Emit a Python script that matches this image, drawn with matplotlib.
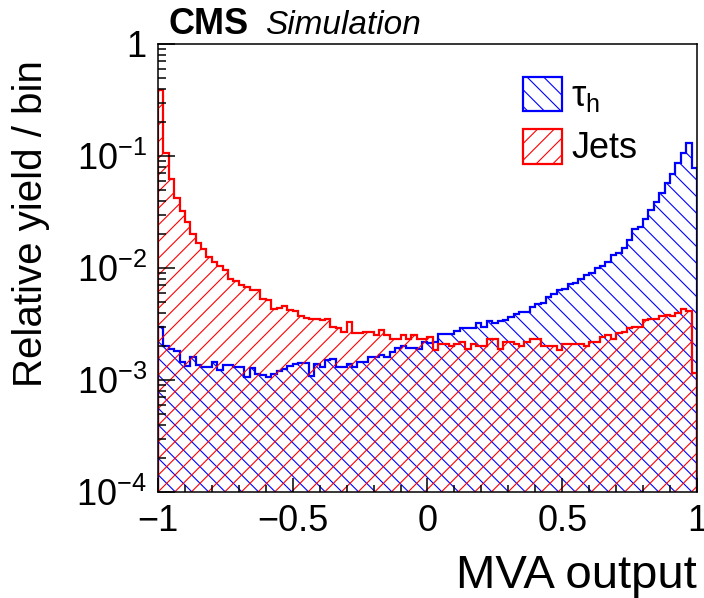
import matplotlib
matplotlib.use("Agg")
import matplotlib.pyplot as plt
from matplotlib import font_manager
import numpy as np

# relative yield per bin, 100 bins from -1 to 1
tau_h = [0.0030, 0.0020, 0.0019, 0.0018, 0.00144, 0.00133, 0.00161, 0.00136, 0.00131, 0.00131,
         0.00146, 0.00123, 0.00136, 0.00136, 0.00130, 0.00130, 0.00107, 0.00127, 0.00113, 0.00111,
         0.00107, 0.00113, 0.00121, 0.00125, 0.00134, 0.00138, 0.00141, 0.00142, 0.00109, 0.00139,
         0.00131, 0.00151, 0.00154, 0.00130, 0.00131, 0.00138, 0.00131, 0.00146, 0.00146, 0.00160,
         0.00162, 0.00167, 0.00162, 0.00179, 0.00192, 0.00203, 0.00192, 0.00192, 0.00190, 0.00220,
         0.00216, 0.00220, 0.00256, 0.00256, 0.00256, 0.00272, 0.00289, 0.00289, 0.00289, 0.00325,
         0.00300, 0.00336, 0.00325, 0.00336, 0.00342, 0.00363, 0.00390, 0.00402, 0.00408, 0.00452,
         0.00475, 0.00486, 0.00554, 0.00582, 0.00636, 0.00646, 0.00715, 0.00733, 0.00797, 0.00866,
         0.00895, 0.0100, 0.0105, 0.0112, 0.0131, 0.0137, 0.0150, 0.0178, 0.0221, 0.0231,
         0.0272, 0.0330, 0.0391, 0.0470, 0.0570, 0.0686, 0.0861, 0.1057, 0.1315, 0.0787]

jets = [0.39, 0.106, 0.0623, 0.0425, 0.0323, 0.0259, 0.0200, 0.0168, 0.0147, 0.0126,
        0.0113, 0.0105, 0.0096, 0.0080, 0.0076, 0.0070, 0.0068, 0.0063, 0.0064, 0.0053,
        0.0052, 0.0043, 0.0044, 0.0046, 0.0042, 0.0041, 0.0037, 0.0036, 0.0035, 0.0035,
        0.0034, 0.0035, 0.0030, 0.0029, 0.0027, 0.0033, 0.0026, 0.0026, 0.0027, 0.0027,
        0.0025, 0.0028, 0.0025, 0.0023, 0.0023, 0.0025, 0.0023, 0.0025, 0.0023, 0.0023,
        0.0024, 0.00185, 0.0021, 0.0021, 0.0020, 0.0021, 0.0022, 0.0019, 0.0021, 0.0020,
        0.0020, 0.0023, 0.0023, 0.0019, 0.0022, 0.0022, 0.0021, 0.0020, 0.0022, 0.0023,
        0.0023, 0.0020, 0.0020, 0.0020, 0.00185, 0.0021, 0.0021, 0.0021, 0.0021, 0.0020,
        0.0022, 0.0022, 0.0024, 0.0025, 0.0023, 0.0026, 0.0027, 0.0029, 0.0030, 0.0030,
        0.0034, 0.0035, 0.0035, 0.0037, 0.0038, 0.0037, 0.0040, 0.0043, 0.0041, 0.00115]

edges = np.linspace(-1, 1, len(jets) + 1)

y_ticks = [1e-4, 1e-3, 1e-2, 1e-1, 1]
y_ticklabels = ['$10^{-4}$', '$10^{-3}$', '$10^{-2}$', '$10^{-1}$', '1']
x_ticks = [-1, -0.5, 0, 0.5, 1]
x_ticklabels = ['\u22121', '\u22120.5', '0', '0.5', '1']

# ROOT-like narrow helvetica if we have it
names = {f.name for f in font_manager.fontManager.ttflist}
font = 'Liberation Sans Narrow' if 'Liberation Sans Narrow' in names else 'Liberation Sans'
plt.rcParams['font.family'] = [font, 'DejaVu Sans']
plt.rcParams['mathtext.fontset'] = 'custom'
plt.rcParams['mathtext.rm'] = font
plt.rcParams['mathtext.it'] = font + ':italic'
plt.rcParams['hatch.linewidth'] = 0.8

fig = plt.figure(figsize=(7.04, 5.98), dpi=100)
ax = fig.add_axes([0.2244, 0.1773, 0.7656, 0.7492])

ax.stairs(tau_h, edges, baseline=1e-6, fill=True, facecolor='none',
          edgecolor='blue', hatch='\\\\', linewidth=1.6, label='\u03c4$_{\\mathregular{h}}$')
ax.stairs(jets, edges, baseline=1e-6, fill=True, facecolor='none',
          edgecolor='red', hatch='//', linewidth=1.6, label='Jets')

ax.set_yscale('log')
ax.set_xlim(-1, 1)
ax.set_ylim(1e-4, 1)
ax.set_yticks(y_ticks)
ax.set_yticklabels(y_ticklabels)
ax.set_xticks(x_ticks)
ax.set_xticklabels(x_ticklabels)
ax.set_xticks(np.arange(-1, 1.01, 0.1), minor=True)
ax.tick_params(which='both', direction='in', labelsize=26, width=1.1)
ax.tick_params(axis='y', which='major', length=12, pad=8)
ax.tick_params(axis='y', which='minor', length=6)
ax.tick_params(axis='x', which='major', length=10, pad=9)
ax.tick_params(axis='x', which='minor', length=5)
for s in ax.spines.values():
    s.set_linewidth(1.1)

ax.set_xlabel('MVA output', fontsize=34, loc='right')
ax.xaxis.set_label_coords(1.0, -0.138)
ax.set_ylabel('Relative yield / bin', fontsize=29, loc='top')
ax.yaxis.set_label_coords(-0.20, 0.965)

ax.legend(loc='upper left', bbox_to_anchor=(0.643, 0.967), frameon=False,
          fontsize=26, handlelength=1.1, handleheight=1.1, handletextpad=0.25,
          labelspacing=0.4, borderpad=0)

fig.text(0.239, 0.943, 'CMS', fontsize=26, fontweight='bold')
fig.text(0.376, 0.943, 'Simulation', fontsize=24, style='italic')

fig.savefig('out.png', dpi=100)
